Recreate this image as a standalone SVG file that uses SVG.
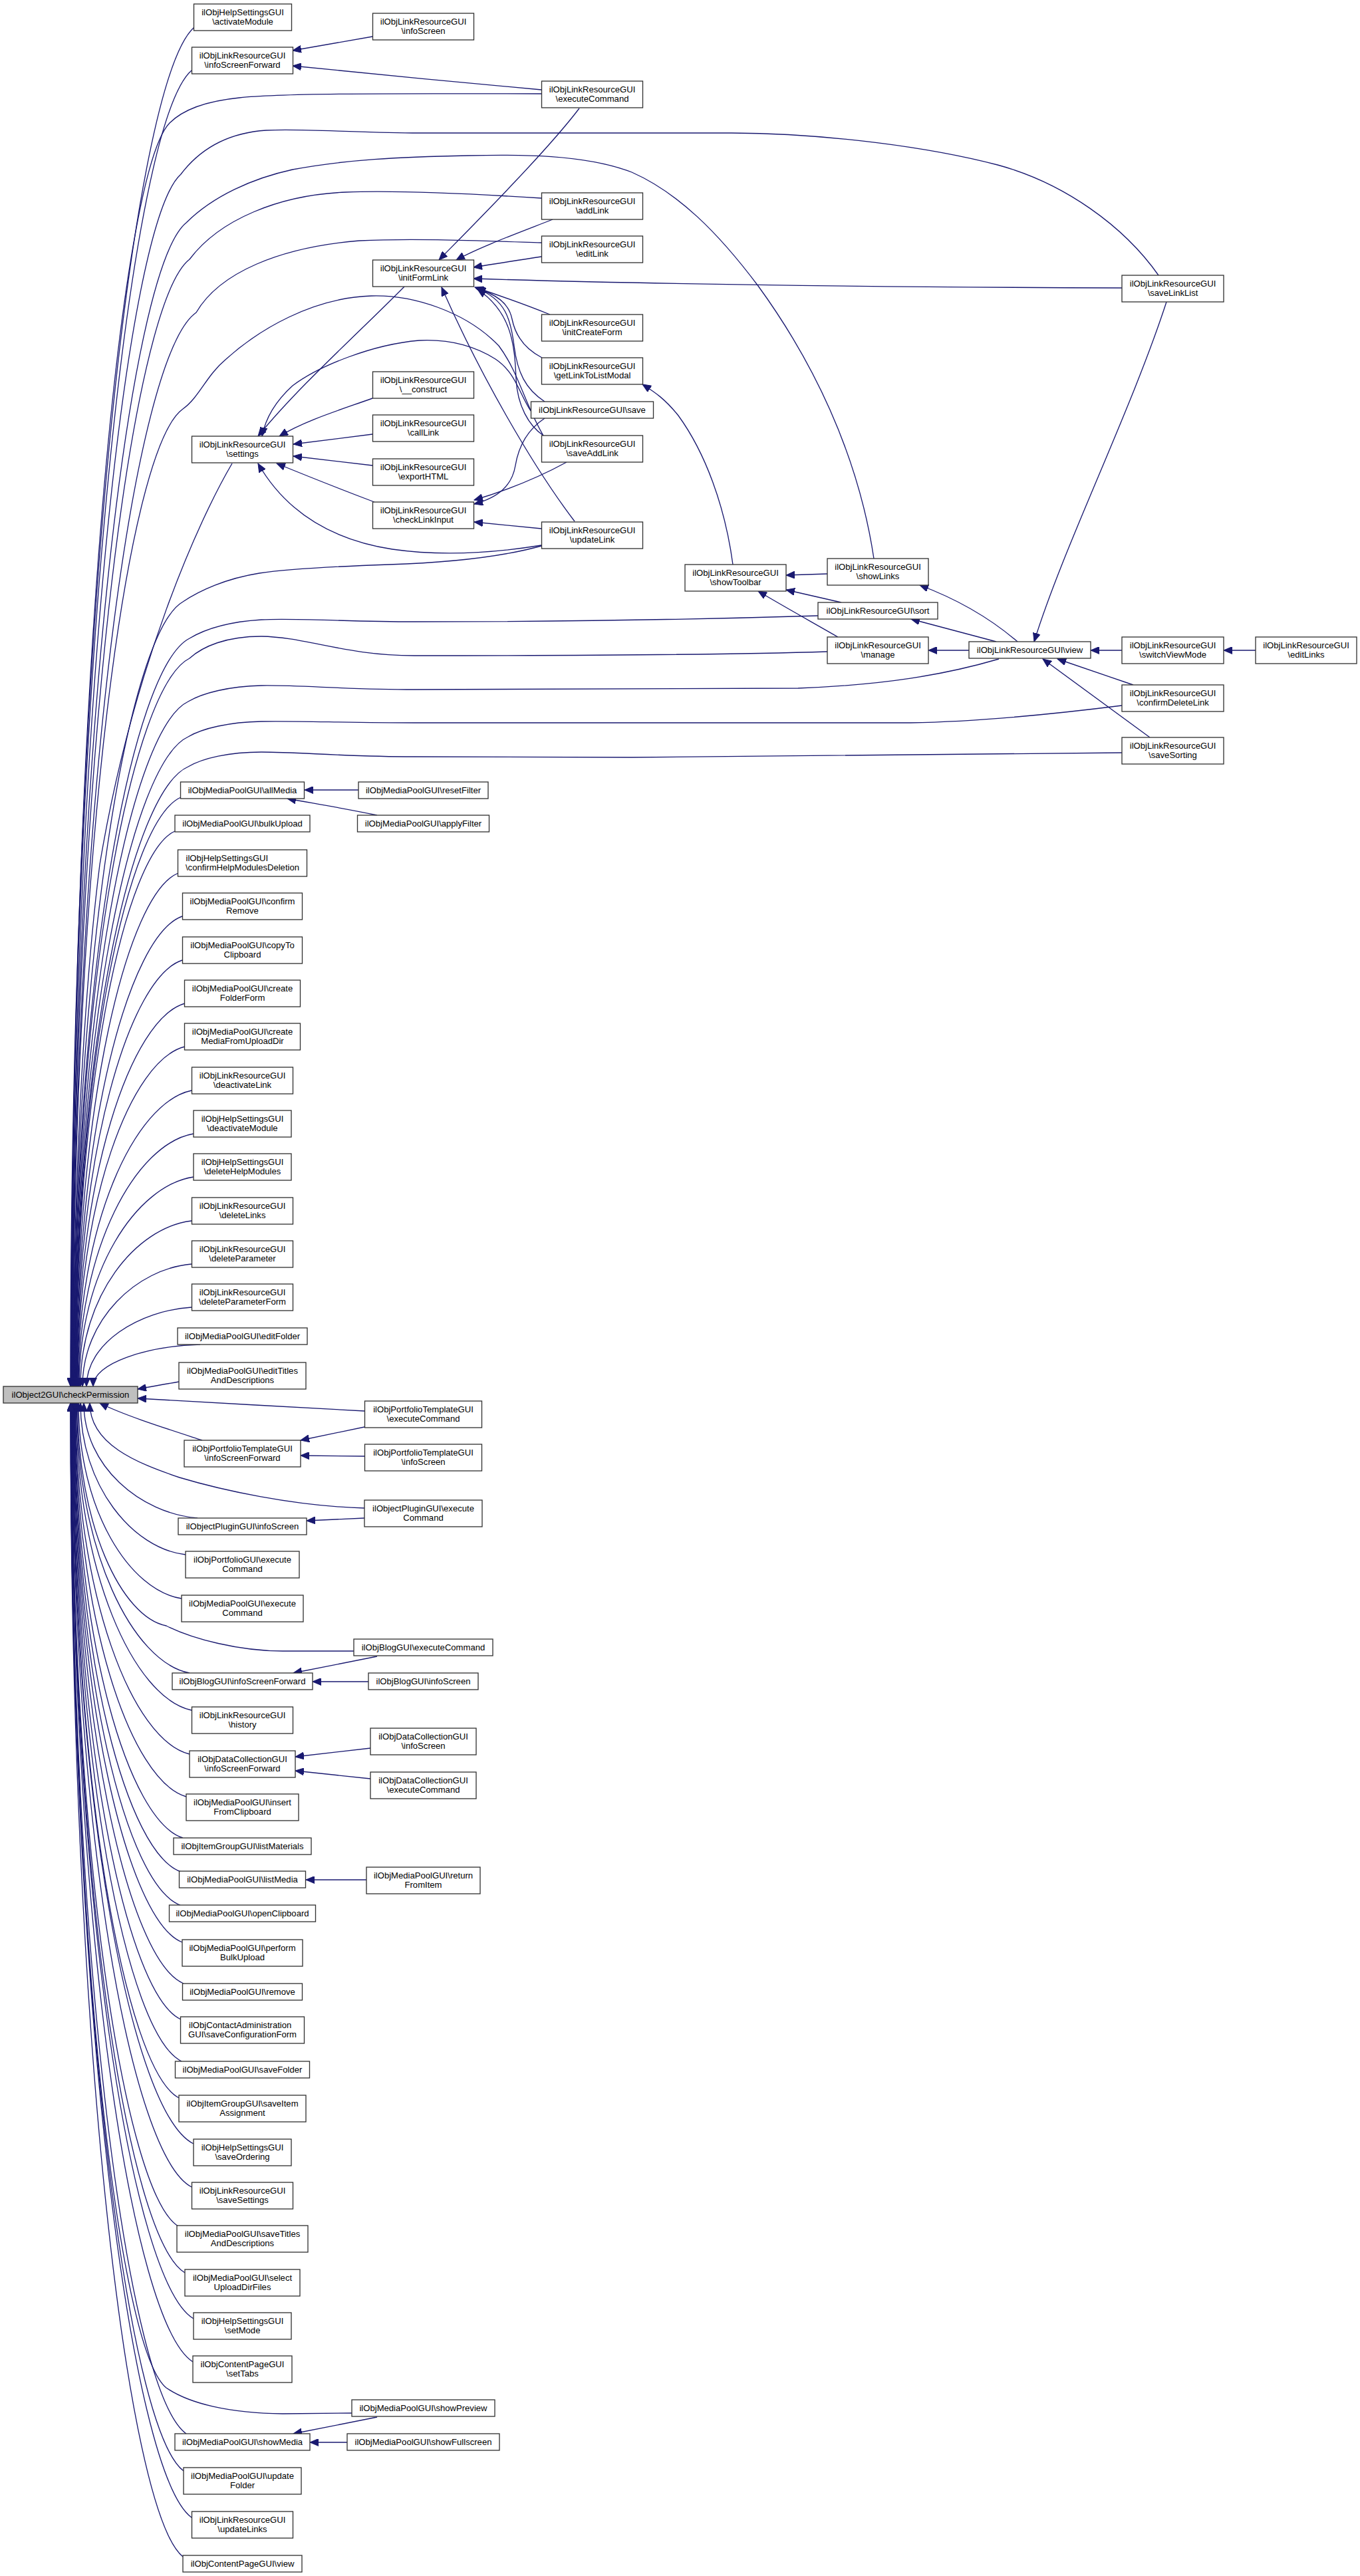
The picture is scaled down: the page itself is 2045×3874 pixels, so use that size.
<svg xmlns="http://www.w3.org/2000/svg" width="2045" height="3874" viewBox="0 0 2045 3874">
<style>
.n rect{fill:#fff;stroke:#333;stroke-width:1.33}
.r rect{fill:#bfbfbf;stroke:#333;stroke-width:1.33}
text{font-family:"Liberation Sans",Arial,Helvetica,sans-serif;font-size:13.1px;fill:#000;text-anchor:middle}
text.l{text-anchor:start}
#edges path{fill:none;stroke:#191970;stroke-width:1.33;marker-end:url(#a)}
</style>
<defs>
<marker id="a" markerUnits="userSpaceOnUse" markerWidth="14" markerHeight="11" refX="13" refY="5.5" orient="auto">
<path d="M0,0 L13,5.5 L0,11 z" fill="#191970" stroke="#191970" stroke-width="1"/>
</marker>
</defs>
<rect x="0" y="0" width="2045" height="3874" fill="#fff"/>
<g id="edges">
<!-- root fan, upper -->
<path d="M292,41 C199,123 106,961 106,2085"/>
<path d="M288,106 C197,185 106.5,997 106.5,2085"/>
<path d="M814,141 C650,141 430,139 360,147 C310,152 275,165 255,185 C181,261 107,1040 107,2085"/>
<path d="M1742,414 C1690,340 1600,275 1500,248 C1400,222 1250,201 1100,200 L620,200 C520,199 450,193 400,196 C340,200 300,225 272,262 C190,335 107.5,1082 107.5,2085"/>
<path d="M1314,840 C1290,680 1220,540 1140,430 C1080,350 1020,290 950,259 C880,232 780,232 704,234 C600,236 520,240 440,255 C380,268 320,295 280,335 C194,405 108,1122 108,2085"/>
<path d="M814,298 C720,292 600,286 520,289 C420,293 330,330 285,390 C197,458 108.5,1153 108.5,2085"/>
<path d="M814,365 C720,362 620,358 540,362 C420,372 330,410 295,470 C202,535 109,1197 109,2085"/>
<path d="M817,655 C790,610 780,560 750,520 C700,468 620,443 558,445 C470,448 390,495 340,540 C310,565 300,597 275,615 C192,674 109.5,1277 109.5,2085"/>
<path d="M349,697 C300,780 200,1000 150,1300 C125,1500 110,1800 110,2085"/>
<path d="M814,821 C760,836 680,846 585,849 C500,852 430,856 390,862 C340,870 300,888 275,905 C193,952 110.5,1436 110.5,2085"/>
<path d="M1230,926 C1100,930 900,935 623,935 C520,935 440,929 393,932 C345,935 310,945 285,960 C198,1005 111,1466 111,2085"/>
<path d="M1244,980 C1150,983 1000,986 623,986 C520,986 460,958 393,957 C340,957 305,972 285,990 C198,1034 111.5,1483 111.5,2085"/>
<path d="M1502,991 C1420,1015 1330,1030 1200,1035 L623,1037 C520,1037 450,1030 393,1031 C345,1032 305,1042 283,1055 C197.5,1096 112,1518 112,2085"/>
<path d="M1687,1061 C1600,1072 1480,1085 1369,1087 L623,1087 C520,1087 450,1084 393,1085 C345,1086 305,1095 283,1108 C198,1147 112.5,1548 112.5,2085"/>
<path d="M1687,1132 L950,1139 L623,1138 C520,1138 450,1131 393,1131 C345,1131 305,1140 283,1153 C198,1190 113,1572 113,2085"/>
<path d="M272,1199 C192.75,1234 113.5,1598 113.5,2085"/>
<path d="M263,1250 C188.5,1283 114,1626 114,2085"/>
<path d="M268,1313 C191.25,1344 114.5,1660 114.5,2085"/>
<path d="M274,1378 C194.5,1406 115,1696 115,2085"/>
<path d="M274,1444 C194.75,1470 115.5,1732 115.5,2085"/>
<path d="M278,1509 C197,1532 116,1768 116,2085"/>
<path d="M278,1574 C197.25,1594 116.5,1804 116.5,2085"/>
<path d="M288,1640 C202.5,1658 117,1840 117,2085"/>
<path d="M291,1705 C204.5,1720 118,1876 118,2085"/>
<path d="M291,1770 C205,1783 119,1912 119,2085"/>
<path d="M288,1836 C204.5,1846 121,1948 121,2085"/>
<path d="M288,1901 C206,1908 124,1984 124,2085"/>
<path d="M288,1966 C209,1971 130,2020 130,2085"/>
<path d="M301,2022 C220.5,2024.5 140,2050 140,2085"/>
<path d="M269,2078 C245,2082 225,2086 207,2089"/>
<path d="M548,2122 C450,2117 300,2108 207,2103"/>
<!-- root fan, lower -->
<path d="M304,2166 C255,2150 185,2128 150,2110"/>
<path d="M548,2268 C440,2265 330,2240 270,2222 C205,2200 135,2172 135,2110"/>
<path d="M297,2283 C211.5,2276 126,2205 126,2110"/>
<path d="M279,2338 C200,2329 121,2235 121,2110"/>
<path d="M273,2404 C195.5,2392 118,2272 118,2110"/>
<path d="M532,2483 L425,2483 C360,2483 290,2465 250,2445 C183,2432 116.5,2294 116.5,2110"/>
<path d="M285,2516 C200,2500 115.5,2333 115.5,2110"/>
<path d="M288,2572 C201,2553 114.5,2364 114.5,2110"/>
<path d="M285,2638 C199,2617 113.5,2400 113.5,2110"/>
<path d="M280,2702 C196.5,2678 113,2436 113,2110"/>
<path d="M275,2764 C193.75,2738 112.5,2470 112.5,2110"/>
<path d="M272,2815 C192,2787 112,2498 112,2110"/>
<path d="M271,2865 C191,2835 111.5,2525 111.5,2110"/>
<path d="M274,2921 C192.5,2889 111,2556 111,2110"/>
<path d="M276,2983 C193,2948 110.5,2590 110.5,2110"/>
<path d="M272,3037 C191,3000 110,2620 110,2110"/>
<path d="M273,3100 C191,3060 109.5,2654 109.5,2110"/>
<path d="M269,3155 C189,3113 109,2685 109,2110"/>
<path d="M291,3224 C199.75,3179 108.5,2723 108.5,2110"/>
<path d="M288,3289 C198,3242 108,2758 108,2110"/>
<path d="M268,3348 C187.75,3298 107.5,2791 107.5,2110"/>
<path d="M278,3418 C192.6,3366 107.2,2829 107.2,2110"/>
<path d="M291,3487 C199,3432 107,2867 107,2110"/>
<path d="M290,3552 C198.4,3494 106.8,2903 106.8,2110"/>
<path d="M529,3629 L425,3630 C345,3629 285,3615 250,3591 C178,3532 106.6,2925 106.6,2110"/>
<path d="M280,3660 C193,3598 106.4,2962 106.4,2110"/>
<path d="M276,3716 C191,3652 106.2,2993 106.2,2110"/>
<path d="M288,3786 C197,3719 106.1,3032 106.1,2110"/>
<path d="M275,3845 C190.5,3776 106,3064 106,2110"/>
<!-- ilObjLinkResourceGUI internal -->
<path d="M560,55 L440,76"/>
<path d="M814,135 C700,125 550,110 440,99"/>
<path d="M871,163 C820,230 710,340 660,391"/>
<path d="M831,330 C780,350 720,372 686,391"/>
<path d="M814,386 C780,391 750,396 712,402"/>
<path d="M1687,433 C1400,432 1000,428 712,419"/>
<path d="M827,473 C790,458 750,444 714,432"/>
<path d="M815,538 C790,525 775,505 770,480 C765,455 745,442 716,434"/>
<path d="M819,604 C790,585 778,560 773,520 C768,480 760,450 717,434"/>
<path d="M817,655 C795,640 778,610 776,570 C774,520 770,470 718,435"/>
<path d="M864,784 C800,700 720,560 664,432"/>
<path d="M608,431 C540,500 450,580 388,656"/>
<path d="M798,618 C780,590 775,560 745,540 C710,518 670,510 630,512 C560,518 480,550 440,580 C418,600 400,625 394,656"/>
<path d="M560,599 C510,617 460,632 420,656"/>
<path d="M560,653 L441,668"/>
<path d="M560,700 L441,686"/>
<path d="M563,755 C510,735 460,715 416,697"/>
<path d="M814,820 C740,832 660,836 590,826 C500,812 430,770 388,697"/>
<path d="M852,695 C810,718 760,738 713,752"/>
<path d="M819,629 C795,645 780,670 775,700 C770,730 750,748 713,758"/>
<path d="M814,795 L713,785"/>
<path d="M1102,849 C1090,760 1060,680 1020,625 C1000,600 985,590 966,578"/>
<path d="M1244,863 L1182,865"/>
<path d="M1265,906 L1182,887"/>
<path d="M1260,958 C1220,935 1175,910 1140,889"/>
<path d="M1530,965 C1495,935 1450,905 1383,880"/>
<path d="M1498,965 L1370,931"/>
<path d="M1457,978 L1396,978"/>
<path d="M1687,978 L1640,978"/>
<path d="M1888,978 L1840,978"/>
<path d="M1704,1030 L1590,991"/>
<path d="M1729,1109 L1568,991"/>
<path d="M1754,454 C1700,620 1600,820 1555,965"/>
<!-- other callers -->
<path d="M539,1188 L458,1188"/>
<path d="M567,1226 C520,1216 470,1208 432,1201"/>
<path d="M548,2146 L452,2166"/>
<path d="M548,2190 L452,2189"/>
<path d="M548,2283 L461,2287"/>
<path d="M567,2491 L441,2516"/>
<path d="M554,2529 L470,2529"/>
<path d="M557,2629 L444,2642"/>
<path d="M557,2675 L444,2663"/>
<path d="M551,2827 L460,2827"/>
<path d="M567,3635 L441,3660"/>
<path d="M522,3673 L466,3673"/>
</g>
<g id="root" class="r"><rect x="5" y="2085" width="202" height="25"/><text x="106" y="2102">ilObject2GUI\checkPermission</text></g>
<g id="n_act" class="n"><rect x="291.5" y="6" width="147" height="40"/><text x="365" y="22.5">ilObjHelpSettingsGUI</text><text x="365" y="37">\activateModule</text></g>
<g id="n_lrisf" class="n"><rect x="288.5" y="71" width="152" height="40"/><text x="364.5" y="87.5">ilObjLinkResourceGUI</text><text x="364.5" y="102">\infoScreenForward</text></g>
<g id="n_settings" class="n"><rect x="288.5" y="656" width="152" height="40"/><text x="364.5" y="672.5">ilObjLinkResourceGUI</text><text x="364.5" y="687">\settings</text></g>
<g id="n_allMedia" class="n"><rect x="271.5" y="1176" width="186" height="25"/><text x="364.5" y="1193">ilObjMediaPoolGUI\allMedia</text></g>
<g id="n_bulkUpload" class="n"><rect x="263" y="1226" width="203" height="25"/><text x="364.5" y="1243">ilObjMediaPoolGUI\bulkUpload</text></g>
<g id="n_confHelp" class="n"><rect x="267.5" y="1278" width="194" height="40"/><text class="l" x="279.5" y="1294.5">ilObjHelpSettingsGUI</text><text x="364.5" y="1309">\confirmHelpModulesDeletion</text></g>
<g id="n_confRemove" class="n"><rect x="274.5" y="1343" width="180" height="40"/><text x="364.5" y="1359.5">ilObjMediaPoolGUI\confirm</text><text x="364.5" y="1374">Remove</text></g>
<g id="n_copyTo" class="n"><rect x="274.5" y="1409" width="180" height="40"/><text x="364.5" y="1425.5">ilObjMediaPoolGUI\copyTo</text><text x="364.5" y="1440">Clipboard</text></g>
<g id="n_createFolder" class="n"><rect x="277.5" y="1474" width="174" height="40"/><text x="364.5" y="1490.5">ilObjMediaPoolGUI\create</text><text x="364.5" y="1505">FolderForm</text></g>
<g id="n_createMedia" class="n"><rect x="277.5" y="1539" width="174" height="40"/><text x="364.5" y="1555.5">ilObjMediaPoolGUI\create</text><text x="364.5" y="1570">MediaFromUploadDir</text></g>
<g id="n_deactLink" class="n"><rect x="288.5" y="1605" width="152" height="40"/><text x="364.5" y="1621.5">ilObjLinkResourceGUI</text><text x="364.5" y="1636">\deactivateLink</text></g>
<g id="n_deactModule" class="n"><rect x="291" y="1670" width="147" height="40"/><text x="364.5" y="1686.5">ilObjHelpSettingsGUI</text><text x="364.5" y="1701">\deactivateModule</text></g>
<g id="n_delHelp" class="n"><rect x="291" y="1735" width="147" height="40"/><text x="364.5" y="1751.5">ilObjHelpSettingsGUI</text><text x="364.5" y="1766">\deleteHelpModules</text></g>
<g id="n_delLinks" class="n"><rect x="288.5" y="1801" width="152" height="40"/><text x="364.5" y="1817.5">ilObjLinkResourceGUI</text><text x="364.5" y="1832">\deleteLinks</text></g>
<g id="n_delParam" class="n"><rect x="288.5" y="1866" width="152" height="40"/><text x="364.5" y="1882.5">ilObjLinkResourceGUI</text><text x="364.5" y="1897">\deleteParameter</text></g>
<g id="n_delParamForm" class="n"><rect x="288.5" y="1931" width="152" height="40"/><text x="364.5" y="1947.5">ilObjLinkResourceGUI</text><text x="364.5" y="1962">\deleteParameterForm</text></g>
<g id="n_editFolder" class="n"><rect x="267" y="1997" width="195" height="25"/><text x="364.5" y="2014">ilObjMediaPoolGUI\editFolder</text></g>
<g id="n_editTitles" class="n"><rect x="269" y="2049" width="191" height="40"/><text x="364.5" y="2065.5">ilObjMediaPoolGUI\editTitles</text><text x="364.5" y="2080">AndDescriptions</text></g>
<g id="n_ptisf" class="n"><rect x="277" y="2166" width="175" height="40"/><text x="364.5" y="2182.5">ilObjPortfolioTemplateGUI</text><text x="364.5" y="2197">\infoScreenForward</text></g>
<g id="n_opis" class="n"><rect x="268" y="2283" width="193" height="25"/><text x="364.5" y="2300">ilObjectPluginGUI\infoScreen</text></g>
<g id="n_pfexec" class="n"><rect x="279" y="2333" width="171" height="40"/><text x="364.5" y="2349.5">ilObjPortfolioGUI\execute</text><text x="364.5" y="2364">Command</text></g>
<g id="n_mpexec" class="n"><rect x="273" y="2399" width="183" height="40"/><text x="364.5" y="2415.5">ilObjMediaPoolGUI\execute</text><text x="364.5" y="2430">Command</text></g>
<g id="n_blogisf" class="n"><rect x="259" y="2516" width="211" height="25"/><text x="364.5" y="2533">ilObjBlogGUI\infoScreenForward</text></g>
<g id="n_history" class="n"><rect x="288.5" y="2567" width="152" height="40"/><text x="364.5" y="2583.5">ilObjLinkResourceGUI</text><text x="364.5" y="2598">\history</text></g>
<g id="n_dcisf" class="n"><rect x="285" y="2633" width="159" height="40"/><text x="364.5" y="2649.5">ilObjDataCollectionGUI</text><text x="364.5" y="2664">\infoScreenForward</text></g>
<g id="n_insert" class="n"><rect x="280" y="2698" width="169" height="40"/><text x="364.5" y="2714.5">ilObjMediaPoolGUI\insert</text><text x="364.5" y="2729">FromClipboard</text></g>
<g id="n_listMat" class="n"><rect x="261" y="2764" width="207" height="25"/><text x="364.5" y="2781">ilObjItemGroupGUI\listMaterials</text></g>
<g id="n_listMedia" class="n"><rect x="269.5" y="2814" width="190" height="25"/><text x="364.5" y="2831">ilObjMediaPoolGUI\listMedia</text></g>
<g id="n_openClip" class="n"><rect x="254.5" y="2865" width="220" height="25"/><text x="364.5" y="2882">ilObjMediaPoolGUI\openClipboard</text></g>
<g id="n_perform" class="n"><rect x="274" y="2917" width="181" height="40"/><text x="364.5" y="2933.5">ilObjMediaPoolGUI\perform</text><text x="364.5" y="2948">BulkUpload</text></g>
<g id="n_remove" class="n"><rect x="274.5" y="2983" width="180" height="25"/><text x="364.5" y="3000">ilObjMediaPoolGUI\remove</text></g>
<g id="n_contact" class="n"><rect x="271.5" y="3033" width="186" height="40"/><text class="l" x="284" y="3049.5">ilObjContactAdministration</text><text x="364.5" y="3064">GUI\saveConfigurationForm</text></g>
<g id="n_saveFolder" class="n"><rect x="263.5" y="3100" width="202" height="25"/><text x="364.5" y="3117">ilObjMediaPoolGUI\saveFolder</text></g>
<g id="n_saveItem" class="n"><rect x="269" y="3151" width="191" height="40"/><text x="364.5" y="3167.5">ilObjItemGroupGUI\saveItem</text><text x="364.5" y="3182">Assignment</text></g>
<g id="n_saveOrdering" class="n"><rect x="291" y="3217" width="147" height="40"/><text x="364.5" y="3233.5">ilObjHelpSettingsGUI</text><text x="364.5" y="3248">\saveOrdering</text></g>
<g id="n_saveSettings" class="n"><rect x="288.5" y="3282" width="152" height="40"/><text x="364.5" y="3298.5">ilObjLinkResourceGUI</text><text x="364.5" y="3313">\saveSettings</text></g>
<g id="n_saveTitles" class="n"><rect x="266" y="3347" width="197" height="40"/><text x="364.5" y="3363.5">ilObjMediaPoolGUI\saveTitles</text><text x="364.5" y="3378">AndDescriptions</text></g>
<g id="n_select" class="n"><rect x="278" y="3413" width="173" height="40"/><text x="364.5" y="3429.5">ilObjMediaPoolGUI\select</text><text x="364.5" y="3444">UploadDirFiles</text></g>
<g id="n_setMode" class="n"><rect x="291" y="3478" width="147" height="40"/><text x="364.5" y="3494.5">ilObjHelpSettingsGUI</text><text x="364.5" y="3509">\setMode</text></g>
<g id="n_setTabs" class="n"><rect x="290" y="3543" width="149" height="40"/><text x="364.5" y="3559.5">ilObjContentPageGUI</text><text x="364.5" y="3574">\setTabs</text></g>
<g id="n_showMedia" class="n"><rect x="263" y="3660" width="203" height="25"/><text x="364.5" y="3677">ilObjMediaPoolGUI\showMedia</text></g>
<g id="n_updateFolder" class="n"><rect x="276" y="3711" width="177" height="40"/><text x="364.5" y="3727.5">ilObjMediaPoolGUI\update</text><text x="364.5" y="3742">Folder</text></g>
<g id="n_updateLinks" class="n"><rect x="288.5" y="3777" width="152" height="40"/><text x="364.5" y="3793.5">ilObjLinkResourceGUI</text><text x="364.5" y="3808">\updateLinks</text></g>
<g id="n_cpview" class="n"><rect x="275" y="3843" width="179" height="25"/><text x="364.5" y="3860">ilObjContentPageGUI\view</text></g>
<g id="n_lris" class="n"><rect x="560.5" y="20" width="152" height="40"/><text x="636.5" y="36.5">ilObjLinkResourceGUI</text><text x="636.5" y="51">\infoScreen</text></g>
<g id="n_initForm" class="n"><rect x="560.5" y="391" width="152" height="40"/><text x="636.5" y="407.5">ilObjLinkResourceGUI</text><text x="636.5" y="422">\initFormLink</text></g>
<g id="n_construct" class="n"><rect x="560.5" y="559" width="152" height="40"/><text x="636.5" y="575.5">ilObjLinkResourceGUI</text><text x="636.5" y="590">\__construct</text></g>
<g id="n_callLink" class="n"><rect x="560.5" y="624" width="152" height="40"/><text x="636.5" y="640.5">ilObjLinkResourceGUI</text><text x="636.5" y="655">\callLink</text></g>
<g id="n_exportHTML" class="n"><rect x="560.5" y="690" width="152" height="40"/><text x="636.5" y="706.5">ilObjLinkResourceGUI</text><text x="636.5" y="721">\exportHTML</text></g>
<g id="n_checkLink" class="n"><rect x="560.5" y="755" width="152" height="40"/><text x="636.5" y="771.5">ilObjLinkResourceGUI</text><text x="636.5" y="786">\checkLinkInput</text></g>
<g id="n_resetFilter" class="n"><rect x="539" y="1176" width="195" height="25"/><text x="636.5" y="1193">ilObjMediaPoolGUI\resetFilter</text></g>
<g id="n_applyFilter" class="n"><rect x="537.5" y="1226" width="198" height="25"/><text x="636.5" y="1243">ilObjMediaPoolGUI\applyFilter</text></g>
<g id="n_ptexec" class="n"><rect x="548.5" y="2107" width="176" height="40"/><text x="636.5" y="2123.5">ilObjPortfolioTemplateGUI</text><text x="636.5" y="2138">\executeCommand</text></g>
<g id="n_ptis" class="n"><rect x="548.5" y="2172" width="176" height="40"/><text x="636.5" y="2188.5">ilObjPortfolioTemplateGUI</text><text x="636.5" y="2203">\infoScreen</text></g>
<g id="n_opexec" class="n"><rect x="548" y="2256" width="177" height="40"/><text x="636.5" y="2272.5">ilObjectPluginGUI\execute</text><text x="636.5" y="2287">Command</text></g>
<g id="n_blogexec" class="n"><rect x="532" y="2465" width="209" height="25"/><text x="636.5" y="2482">ilObjBlogGUI\executeCommand</text></g>
<g id="n_blogis" class="n"><rect x="554" y="2516" width="165" height="25"/><text x="636.5" y="2533">ilObjBlogGUI\infoScreen</text></g>
<g id="n_dcis" class="n"><rect x="557" y="2599" width="159" height="40"/><text x="636.5" y="2615.5">ilObjDataCollectionGUI</text><text x="636.5" y="2630">\infoScreen</text></g>
<g id="n_dcexec" class="n"><rect x="557" y="2665" width="159" height="40"/><text x="636.5" y="2681.5">ilObjDataCollectionGUI</text><text x="636.5" y="2696">\executeCommand</text></g>
<g id="n_returnFromItem" class="n"><rect x="551" y="2808" width="171" height="40"/><text x="636.5" y="2824.5">ilObjMediaPoolGUI\return</text><text x="636.5" y="2839">FromItem</text></g>
<g id="n_showPreview" class="n"><rect x="529" y="3609" width="215" height="25"/><text x="636.5" y="3626">ilObjMediaPoolGUI\showPreview</text></g>
<g id="n_showFullscreen" class="n"><rect x="522" y="3660" width="229" height="25"/><text x="636.5" y="3677">ilObjMediaPoolGUI\showFullscreen</text></g>
<g id="n_lrexec" class="n"><rect x="814.5" y="122" width="152" height="40"/><text x="890.5" y="138.5">ilObjLinkResourceGUI</text><text x="890.5" y="153">\executeCommand</text></g>
<g id="n_addLink" class="n"><rect x="814.5" y="290" width="152" height="40"/><text x="890.5" y="306.5">ilObjLinkResourceGUI</text><text x="890.5" y="321">\addLink</text></g>
<g id="n_editLink" class="n"><rect x="814.5" y="355" width="152" height="40"/><text x="890.5" y="371.5">ilObjLinkResourceGUI</text><text x="890.5" y="386">\editLink</text></g>
<g id="n_initCreate" class="n"><rect x="814.5" y="473" width="152" height="40"/><text x="890.5" y="489.5">ilObjLinkResourceGUI</text><text x="890.5" y="504">\initCreateForm</text></g>
<g id="n_getLinkModal" class="n"><rect x="814.5" y="538" width="152" height="40"/><text x="890.5" y="554.5">ilObjLinkResourceGUI</text><text x="890.5" y="569">\getLinkToListModal</text></g>
<g id="n_save" class="n"><rect x="798.5" y="604" width="184" height="25"/><text x="890.5" y="621">ilObjLinkResourceGUI\save</text></g>
<g id="n_saveAddLink" class="n"><rect x="814.5" y="655" width="152" height="40"/><text x="890.5" y="671.5">ilObjLinkResourceGUI</text><text x="890.5" y="686">\saveAddLink</text></g>
<g id="n_updateLink" class="n"><rect x="814.5" y="785" width="152" height="40"/><text x="890.5" y="801.5">ilObjLinkResourceGUI</text><text x="890.5" y="816">\updateLink</text></g>
<g id="n_showToolbar" class="n"><rect x="1030" y="849" width="152" height="40"/><text x="1106" y="865.5">ilObjLinkResourceGUI</text><text x="1106" y="880">\showToolbar</text></g>
<g id="n_showLinks" class="n"><rect x="1244" y="840" width="152" height="40"/><text x="1320" y="856.5">ilObjLinkResourceGUI</text><text x="1320" y="871">\showLinks</text></g>
<g id="n_sort" class="n"><rect x="1230" y="906" width="180" height="25"/><text x="1320" y="923">ilObjLinkResourceGUI\sort</text></g>
<g id="n_manage" class="n"><rect x="1244" y="958" width="152" height="40"/><text x="1320" y="974.5">ilObjLinkResourceGUI</text><text x="1320" y="989">\manage</text></g>
<g id="n_view" class="n"><rect x="1457" y="965" width="183" height="25"/><text x="1548.5" y="982">ilObjLinkResourceGUI\view</text></g>
<g id="n_saveLinkList" class="n"><rect x="1687" y="414" width="153" height="40"/><text x="1763.5" y="430.5">ilObjLinkResourceGUI</text><text x="1763.5" y="445">\saveLinkList</text></g>
<g id="n_switchView" class="n"><rect x="1687" y="958" width="153" height="40"/><text x="1763.5" y="974.5">ilObjLinkResourceGUI</text><text x="1763.5" y="989">\switchViewMode</text></g>
<g id="n_confirmDelete" class="n"><rect x="1687" y="1030" width="153" height="40"/><text x="1763.5" y="1046.5">ilObjLinkResourceGUI</text><text x="1763.5" y="1061">\confirmDeleteLink</text></g>
<g id="n_saveSorting" class="n"><rect x="1687" y="1109" width="153" height="40"/><text x="1763.5" y="1125.5">ilObjLinkResourceGUI</text><text x="1763.5" y="1140">\saveSorting</text></g>
<g id="n_editLinks" class="n"><rect x="1888" y="958" width="152" height="40"/><text x="1964" y="974.5">ilObjLinkResourceGUI</text><text x="1964" y="989">\editLinks</text></g>
</svg>
